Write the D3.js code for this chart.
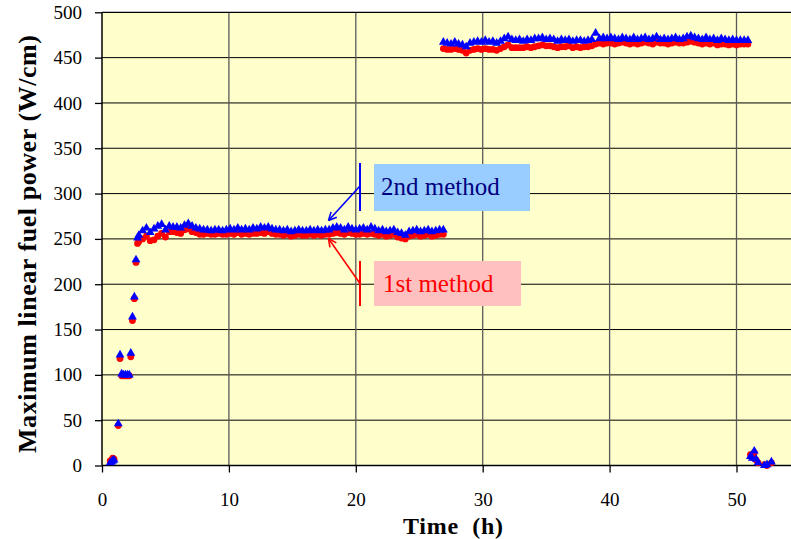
<!DOCTYPE html>
<html>
<head>
<meta charset="utf-8">
<script src="https://cdn.jsdelivr.net/npm/d3@7"></script>
<style>
  html, body { margin: 0; padding: 0; background: #ffffff; }
  svg { display: block; }
</style>
</head>
<body>
<svg id="chart" width="791" height="539"></svg>
<script>
// ---------------- DATA ----------------
const xTicks = [0, 10, 20, 30, 40, 50];
const yTicks = [0, 50, 100, 150, 200, 250, 300, 350, 400, 450, 500];

// start-up ramp (irregular times)
const rampTimes = [0.65, 0.75, 0.85, 0.95, 1.28, 1.42, 1.55, 1.7, 1.85, 2.0, 2.15, 2.27, 2.4, 2.55, 2.68, 2.8];
const rampRed   = [5, 6, 8, 7, 44, 118, 99, 99, 99, 99, 99, 120, 160, 184, 224, 245];
const rampBlue  = [3, 4, 5, 6, 46, 122, 101, 100, 100, 100, 100, 124, 164, 186, 227, 251];

// first plateau: readings every 0.3 h starting at 2.9 h
const plateau1Start = 2.9, plateau1Step = 0.3;
const plateau1Blue = [
  254, 259, 262, 257, 261, 264, 266, 260, 264, 263,
  263, 262, 265, 267, 264, 262, 261, 260, 260, 259,
  260, 260, 259, 260, 261, 260, 262, 260, 261, 260,
  262, 261, 263, 262, 263, 261, 260, 260, 259, 260,
  258, 259, 260, 259, 259, 260, 259, 260, 259, 260,
  260, 262, 263, 262, 260, 263, 261, 260, 261, 262,
  260, 263, 261, 259, 260, 258, 259, 260, 257, 256,
  254, 258, 259, 260, 258, 259, 260, 258, 259, 260, 260
];
const plateau1Red = [
  247, 250, 253, 248, 249, 253, 256, 252, 258, 258,
  257, 256, 260, 261, 258, 257, 255, 255, 256, 255,
  255, 256, 255, 255, 256, 255, 257, 255, 256, 255,
  256, 256, 257, 256, 258, 256, 255, 255, 254, 255,
  253, 254, 255, 254, 254, 255, 254, 255, 254, 255,
  255, 256, 257, 256, 255, 257, 256, 255, 255, 256,
  255, 256, 255, 254, 255, 253, 254, 255, 252, 251,
  250, 253, 254, 255, 253, 254, 255, 253, 254, 255, 255
];

// second plateau: readings every 0.3 h starting at 26.9 h
const plateau2Start = 26.9, plateau2Step = 0.3;
const plateau2Blue = [
  467, 466, 465, 467, 465, 464, 462, 466, 467, 468,
  467, 469, 467, 468, 466, 468, 471, 473, 470, 469,
  470, 468, 470, 469, 471, 471, 472, 470, 471, 470,
  468, 470, 469, 470, 468, 469, 469, 468, 469, 470,
  477, 471, 472, 471, 472, 471, 470, 472, 471, 470,
  472, 470, 471, 472, 470, 471, 473, 470, 471, 470,
  471, 472, 470, 471, 473, 474, 472, 471, 470, 472,
  470, 471, 469, 471, 470, 469, 470, 469, 469, 469, 469
];
const plateau2Red = [
  460, 459, 459, 460, 459, 458, 455, 458, 459, 460,
  459, 460, 459, 459, 458, 460, 462, 464, 461, 461,
  461, 461, 462, 461, 462, 463, 464, 463, 463, 462,
  461, 462, 462, 463, 461, 462, 461, 462, 462, 463,
  465, 466, 465, 466, 466, 465, 466, 467, 466, 465,
  466, 465, 466, 467, 466, 465, 467, 466, 466, 465,
  466, 467, 466, 466, 467, 468, 467, 466, 465, 466,
  465, 466, 464, 465, 465, 464, 465, 464, 465, 465, 465
];

// shutdown
const endTimes = [51.1, 51.25, 51.4, 51.55, 51.7, 52.2, 52.4, 52.75];
const endRed   = [12, 9, 14, 6, 3, 1, 0, 3];
const endBlue  = [10, 8, 16, 7, 3, 0, 1, 4];

// ---------------- BUILD POINTS ----------------
function seg(start, step, vals) { return vals.map((v, i) => [start + i * step, v]); }
const redPts = []
  .concat(rampTimes.map((t, i) => [t, rampRed[i]]))
  .concat(seg(plateau1Start, plateau1Step, plateau1Red))
  .concat(seg(plateau2Start, plateau2Step, plateau2Red))
  .concat(endTimes.map((t, i) => [t, endRed[i]]));
const bluePts = []
  .concat(rampTimes.map((t, i) => [t, rampBlue[i]]))
  .concat(seg(plateau1Start, plateau1Step, plateau1Blue))
  .concat(seg(plateau2Start, plateau2Step, plateau2Blue))
  .concat(endTimes.map((t, i) => [t, endBlue[i]]));

// ---------------- LAYOUT ----------------
const svg = d3.select("#chart");
const W = 791, H = 539;
const pL = 102, pT = 12.3, pB = 465.5;
const pxPerHour = 12.69;
const x = d3.scaleLinear().domain([0, 55]).range([pL, pL + 55 * pxPerHour]);
const y = d3.scaleLinear().domain([0, 500]).range([pB, pT]);
const serif = "Liberation Serif, Times New Roman, serif";

// plot background
svg.append("rect").attr("x", pL).attr("y", pT)
  .attr("width", W - pL).attr("height", pB - pT)
  .attr("fill", "#FFFFCC");

// gridlines
svg.append("g").selectAll("line").data(yTicks.filter(d => d > 0 && d < 500)).join("line")
  .attr("x1", pL).attr("x2", W).attr("y1", d => y(d)).attr("y2", d => y(d))
  .attr("stroke", "#000").attr("stroke-width", 1);
svg.append("g").selectAll("line").data(xTicks.filter(d => d > 0)).join("line")
  .attr("x1", d => x(d)).attr("x2", d => x(d)).attr("y1", pT).attr("y2", pB)
  .attr("stroke", "#5a5a5a").attr("stroke-width", 1.3);

// top border
svg.append("line").attr("x1", pL).attr("x2", W).attr("y1", pT).attr("y2", pT)
  .attr("stroke", "#000").attr("stroke-width", 1.3);

// axes
const yAxis = svg.append("g").attr("transform", `translate(${pL},0)`)
  .call(d3.axisLeft(y).tickValues(yTicks).tickSize(7).tickPadding(13).tickSizeOuter(0));
const xAxis = svg.append("g").attr("transform", `translate(0,${pB})`)
  .call(d3.axisBottom(x).tickValues(xTicks).tickSize(7).tickPadding(20).tickSizeOuter(0));
[yAxis, xAxis].forEach(a => {
  a.attr("font-family", serif).attr("font-size", 19);
  a.select(".domain").attr("stroke", "#000").attr("stroke-width", 1.5);
  a.selectAll(".tick line").attr("stroke", "#000").attr("stroke-width", 1.3);
  a.selectAll(".tick text").style("font-family", serif).style("font-size", "19px").attr("fill", "#000");
});
xAxis.select(".domain").attr("d", `M${pL},0H${W}`);
yAxis.select(".domain").attr("d", `M0,${pT}V${pB}`);

// axis titles
svg.append("text").attr("x", 453).attr("y", 534)
  .attr("text-anchor", "middle").style("font-family", serif).attr("font-weight", "bold")
  .style("font-size", "24px").attr("textLength", 100).attr("lengthAdjust", "spacing")
  .text("Time\u00A0 (h)");
svg.append("text").attr("transform", "translate(36,244) rotate(-90)")
  .attr("text-anchor", "middle").style("font-family", serif).attr("font-weight", "bold")
  .style("font-size", "26px").attr("textLength", 418).attr("lengthAdjust", "spacing")
  .text("Maximum linear fuel power (W/cm)");

// data markers
const plot = svg.append("g");
plot.append("g").selectAll("circle").data(redPts).join("circle")
  .attr("cx", d => x(d[0])).attr("cy", d => y(d[1])).attr("r", 3.4)
  .attr("fill", "#FF0000");
const tri = d3.symbol().type(d3.symbolTriangle).size(34);
plot.append("g").selectAll("path").data(bluePts).join("path")
  .attr("transform", d => `translate(${x(d[0])},${y(d[1])})`)
  .attr("d", tri).attr("fill", "#0000FF");

// annotations
function arrow(g, x1, y1, x2, y2, color) {
  g.append("line").attr("x1", x1).attr("y1", y1).attr("x2", x2).attr("y2", y2)
    .attr("stroke", color).attr("stroke-width", 1.6);
  const ang = Math.atan2(y2 - y1, x2 - x1);
  const L = 9, spread = 0.45;
  [ang + Math.PI - spread, ang + Math.PI + spread].forEach(a => {
    g.append("line").attr("x1", x2).attr("y1", y2)
      .attr("x2", x2 + L * Math.cos(a)).attr("y2", y2 + L * Math.sin(a))
      .attr("stroke", color).attr("stroke-width", 1.6);
  });
}
const ann = svg.append("g");
// 2nd method
ann.append("rect").attr("x", 374).attr("y", 164).attr("width", 156).attr("height", 47).attr("fill", "#99CCFF");
ann.append("text").attr("x", 381).attr("y", 195).style("font-family", serif).style("font-size", "25px")
  .attr("fill", "#000080").text("2nd method");
ann.append("line").attr("x1", 360).attr("x2", 360).attr("y1", 163).attr("y2", 211)
  .attr("stroke", "#0000FF").attr("stroke-width", 2);
arrow(ann, 360, 186, 328.5, 220.5, "#0000FF");
// 1st method
ann.append("rect").attr("x", 374).attr("y", 261).attr("width", 147).attr("height", 45).attr("fill", "#FFC0C0");
ann.append("text").attr("x", 383).attr("y", 292).style("font-family", serif).style("font-size", "25px")
  .attr("fill", "#FF0000").text("1st method");
ann.append("line").attr("x1", 360).attr("x2", 360).attr("y1", 261).attr("y2", 306)
  .attr("stroke", "#FF0000").attr("stroke-width", 2);
arrow(ann, 360, 283.5, 328.5, 238.5, "#FF0000");
</script>
</body>
</html>
